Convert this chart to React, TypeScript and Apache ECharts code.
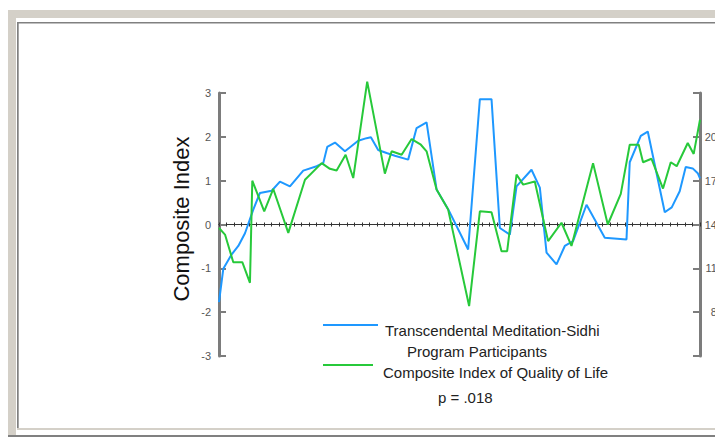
import React, { useEffect, useRef } from "react";
import * as echarts from "echarts";

// time position (quarters from start) and composite index values
const blueT = [0, 0.57, 1.69, 2.57, 3.46, 4.56, 5.45, 7.01, 8.11, 9.44, 11.21, 12.99, 13.87, 14.4, 15.43, 16.76, 18.52, 19.64, 20.21, 21.18, 22.3, 23.4, 25.17, 26.29, 27.62, 28.95, 30.49, 33.15, 34.71, 36.26, 37.37, 38.7, 39.59, 41.58, 42.69, 43.58, 44.91, 46.01, 47.11, 48.9, 51.33, 54.22, 54.65, 56.12, 57.05, 59.31, 60.24, 61.3, 62.1, 63.03, 63.7, 64];
const blueV = [-1.77, -1.01, -0.68, -0.49, -0.2, 0.34, 0.72, 0.77, 0.98, 0.87, 1.23, 1.33, 1.4, 1.77, 1.87, 1.67, 1.91, 1.97, 1.99, 1.7, 1.63, 1.57, 1.48, 2.2, 2.33, 0.8, 0.35, -0.57, 2.86, 2.86, -0.08, -0.23, 0.87, 1.25, 0.84, -0.64, -0.91, -0.49, -0.38, 0.45, -0.3, -0.34, 1.42, 2.02, 2.12, 0.28, 0.39, 0.76, 1.31, 1.28, 1.17, 1.05];

const greenT = [0, 0.8, 1.9, 3.1, 4.12, 4.43, 6.02, 7.22, 9.22, 11.44, 13.66, 14.76, 15.65, 16.85, 17.86, 19.72, 22.07, 22.97, 24.3, 25.63, 26.86, 27.62, 28.95, 30.49, 33.28, 34.71, 36.26, 37.59, 38.34, 39.59, 40.47, 42.02, 43.79, 45.57, 46.9, 49.77, 51.73, 53.46, 54.65, 55.85, 56.42, 57.54, 59.08, 60.11, 60.9, 62.37, 63.16, 64];
const greenV = [-0.08, -0.23, -0.86, -0.86, -1.33, 1.0, 0.3, 0.81, -0.19, 1.02, 1.4, 1.27, 1.23, 1.59, 1.06, 3.26, 1.16, 1.67, 1.59, 1.95, 1.82, 1.67, 0.8, 0.34, -1.86, 0.3, 0.28, -0.61, -0.61, 1.14, 0.91, 0.98, -0.38, 0.04, -0.49, 1.4, 0, 0.7, 1.82, 1.82, 1.42, 1.5, 0.82, 1.42, 1.33, 1.86, 1.61, 2.39];

const leftTicks = [-3, -2, -1, 0, 1, 2, 3];
const rightTickLabels = ["", "80", "110", "140", "170", "200", ""];

const seriesNames = ["Transcendental Meditation-Sidhi", "Program Participants", "Composite Index of Quality of Life"];
const yTitle = "Composite Index";
const pText = "p = .018";

const BLUE = "#1E98FF";
const GREEN = "#27C93A";
const FONT = '"Liberation Sans", Arial, Helvetica, sans-serif';

export default function App() {
  const ref = useRef<HTMLDivElement>(null);
  useEffect(() => {
    const chart = echarts.init(ref.current!, null, { renderer: "svg", width: 715, height: 437 });
    const blueData = blueT.map((t, i) => [t, blueV[i]]);
    const greenData = greenT.map((t, i) => [t, greenV[i]]);
    const baseX = {
      type: "value",
      min: 0,
      max: 64,
      interval: 1,
      position: "bottom",
      axisLine: { show: true, onZero: true, lineStyle: { color: "#333", width: 1 } },
      axisLabel: { show: false },
      splitLine: { show: false },
    };
    const baseY = {
      type: "value",
      min: -3,
      max: 3,
      interval: 1,
      splitLine: { show: false },
      axisLine: { show: true, onZero: false, lineStyle: { color: "#7c7c7c", width: 3 } },
      axisTick: { show: true, inside: true, length: 7, lineStyle: { color: "#7c7c7c", width: 2 } },
    };
    const option: any = {
      animation: false,
      backgroundColor: "#ffffff",
      grid: { left: 219, right: 15, top: 93, bottom: 81, containLabel: false, outerBoundsMode: "none" },
      xAxis: [
        { ...baseX, axisTick: { show: true, inside: false, length: 2, lineStyle: { color: "#333", width: 1 } } },
        { ...baseX, axisTick: { show: true, inside: true, length: 2, lineStyle: { color: "#333", width: 1 } } },
      ],
      yAxis: [
        {
          ...baseY,
          position: "left",
          axisLabel: {
            color: "#555",
            fontSize: 11,
            fontFamily: FONT,
            margin: 8,
            formatter: (v: number) => (leftTicks.includes(v) ? String(v) : ""),
          },
        },
        {
          ...baseY,
          position: "right",
          axisLabel: {
            color: "#555",
            fontSize: 11,
            fontFamily: FONT,
            align: "right",
            margin: 23,
            formatter: (v: number) => rightTickLabels[v + 3] ?? "",
          },
        },
      ],
      series: [
        {
          type: "line",
          name: seriesNames[0],
          xAxisIndex: 0,
          yAxisIndex: 0,
          data: blueData,
          showSymbol: false,
          clip: false,
          lineStyle: { color: BLUE, width: 2 },
          itemStyle: { color: BLUE },
        },
        {
          type: "line",
          name: seriesNames[2],
          xAxisIndex: 0,
          yAxisIndex: 0,
          data: greenData,
          showSymbol: false,
          clip: false,
          lineStyle: { color: GREEN, width: 2 },
          itemStyle: { color: GREEN },
        },
      ],
      graphic: [
        // window frame
        { type: "rect", shape: { x: 8, y: 10, width: 707, height: 8 }, style: { fill: "#d4d0c8" } },
        { type: "rect", shape: { x: 8, y: 10, width: 8, height: 425 }, style: { fill: "#d4d0c8" } },
        { type: "rect", shape: { x: 17, y: 22, width: 698, height: 1.5 }, style: { fill: "#808080" } },
        { type: "rect", shape: { x: 17, y: 22, width: 1.7, height: 406 }, style: { fill: "#808080" } },
        { type: "rect", shape: { x: 17, y: 428, width: 698, height: 2 }, style: { fill: "#d4d0c8" } },
        { type: "rect", shape: { x: 8, y: 435, width: 707, height: 2 }, style: { fill: "#808080" } },
        // y title
        {
          type: "text",
          x: 181,
          y: 219,
          rotation: Math.PI / 2,
          style: {
            text: yTitle,
            font: `22px ${FONT}`,
            fill: "#111",
            align: "center",
            verticalAlign: "middle",
            textAlign: "center",
            textVerticalAlign: "middle",
          },
        },
        // legend
        { type: "line", shape: { x1: 323, y1: 325, x2: 378, y2: 325 }, style: { stroke: BLUE, lineWidth: 2 } },
        {
          type: "text",
          x: 385,
          y: 330,
          style: { text: seriesNames[0], font: `15px ${FONT}`, fill: "#222", verticalAlign: "middle", textVerticalAlign: "middle" },
        },
        {
          type: "text",
          x: 407,
          y: 351,
          style: { text: seriesNames[1], font: `15px ${FONT}`, fill: "#222", verticalAlign: "middle", textVerticalAlign: "middle" },
        },
        { type: "line", shape: { x1: 323, y1: 365, x2: 373, y2: 365 }, style: { stroke: GREEN, lineWidth: 2 } },
        {
          type: "text",
          x: 383,
          y: 372,
          style: { text: seriesNames[2], font: `15px ${FONT}`, fill: "#222", verticalAlign: "middle", textVerticalAlign: "middle" },
        },
        {
          type: "text",
          x: 438,
          y: 397,
          style: { text: pText, font: `15px ${FONT}`, fill: "#222", verticalAlign: "middle", textVerticalAlign: "middle" },
        },
      ],
    };
    chart.setOption(option);
    return () => chart.dispose();
  }, []);
  return (
    <div
      ref={ref}
      style={{ position: "fixed", left: 0, top: 0, width: 715, height: 437, background: "#fff" }}
    />
  );
}
